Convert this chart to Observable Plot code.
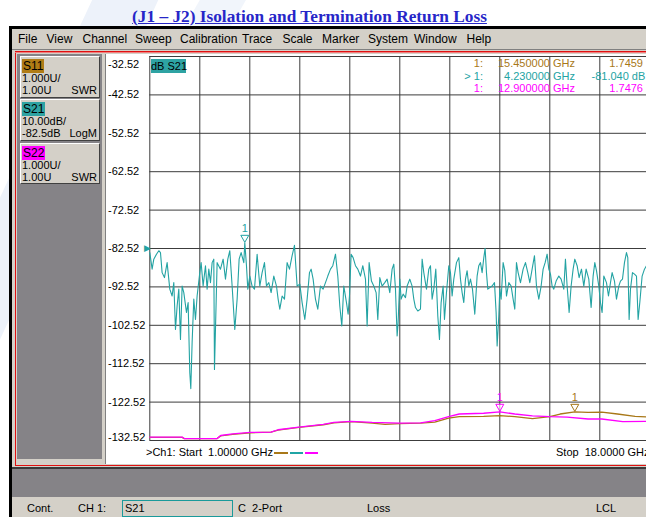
<!DOCTYPE html>
<html><head><meta charset="utf-8">
<script src="https://cdn.jsdelivr.net/npm/d3@7"></script>
<script src="https://cdn.jsdelivr.net/npm/@observablehq/plot@0.6"></script>
<style>
html,body{margin:0;padding:0;background:#fff;overflow:hidden;}
#page{position:relative;width:646px;height:517px;overflow:hidden;font-family:"Liberation Sans",Arial,sans-serif;font-size:11px;color:#000;}
.a{position:absolute;white-space:nowrap;}
.box{position:absolute;background:#d4d0c8;border-top:1px solid #fff;border-left:1px solid #fff;border-right:1px solid #404040;border-bottom:1px solid #404040;box-sizing:border-box;}
.tag{position:absolute;left:1px;top:2px;height:14px;line-height:14px;padding:0 1px;font-size:12px;}
.menu{position:absolute;top:31px;font-size:12px;line-height:16px;}
#chart{position:absolute;left:0;top:0;width:660px;height:470px;}
#chart svg{max-width:none !important;width:660px;height:470px;}
</style></head>
<body><div id="page">
  <!-- faint watermark -->
  <div class="a" style="left:-40px;top:-60px;width:60px;height:700px;background:#edf2fa;transform:rotate(25deg);"></div>
  <div class="a" style="left:200px;top:-40px;width:40px;height:90px;background:#f1f5fb;transform:rotate(30deg);"></div>
  <!-- title -->
  <div class="a" id="title" style="left:0;width:619px;top:8px;text-align:center;font-family:'Liberation Serif','Times New Roman',serif;font-weight:bold;font-size:17.3px;line-height:18px;color:#2626c8;text-decoration:underline;"></div>
  <!-- window frame -->
  <div class="a" style="left:9px;top:26px;width:660px;height:500px;background:#000;"></div>
  <div class="a" style="left:12px;top:29px;width:660px;height:20px;background:#d4d0c8;"></div>
  <div class="a" style="left:12px;top:49px;width:660px;height:1px;background:#808080;"></div>
  <div class="a" style="left:12px;top:50px;width:660px;height:420px;background:#d4d0c8;"></div>
  <div class="a" style="left:15px;top:51px;width:660px;height:415px;border:1px solid #e01010;border-right:none;box-sizing:border-box;"></div>
  <div class="a" style="left:15px;top:52px;width:660px;height:1px;background:#f08080;"></div>
  <div class="a" style="left:17px;top:54px;width:85px;height:405px;background:#858387;"></div>
  <div class="a" style="left:105px;top:54px;width:1px;height:410px;background:#808080;"></div>
  <div class="a" style="left:106px;top:54px;width:600px;height:410px;background:#fff;"></div>
  <div class="a" style="left:12px;top:467px;width:660px;height:2px;background:#3a3a3a;"></div>
  <div class="a" style="left:12px;top:469px;width:660px;height:28px;background:#858387;"></div>
  <div class="a" style="left:12px;top:497px;width:660px;height:20px;background:#d4d0c8;"></div>
  <div id="menus"></div>
  <!-- trace boxes -->
  <div class="box" style="left:20px;top:56px;width:80px;height:42px;">
    <div class="tag" style="background:#b07c16;">S11</div>
    <div class="a" style="left:1px;top:15px;">1.000U/</div>
    <div class="a" style="left:1px;top:27px;">1.00U</div>
    <div class="a" style="right:2px;top:27px;">SWR</div>
  </div>
  <div class="box" style="left:20px;top:99px;width:80px;height:42px;">
    <div class="tag" style="background:#2ea3a3;">S21</div>
    <div class="a" style="left:1px;top:15px;">10.00dB/</div>
    <div class="a" style="left:1px;top:27px;">-82.5dB</div>
    <div class="a" style="right:2px;top:27px;">LogM</div>
  </div>
  <div class="box" style="left:20px;top:143px;width:80px;height:41px;">
    <div class="tag" style="background:#ff00ff;">S22</div>
    <div class="a" style="left:1px;top:15px;">1.000U/</div>
    <div class="a" style="left:1px;top:27px;">1.00U</div>
    <div class="a" style="right:2px;top:27px;">SWR</div>
  </div>
  <div id="chart"></div>
  <div class="a" style="left:151px;top:59px;width:35px;height:14px;line-height:14px;background:#2ea3a3;text-align:center;">dB S21</div>
  <div id="readout"></div>
  <!-- bottom of plot -->
  <div class="a" style="left:146px;top:446px;line-height:13px;">&gt;Ch1: Start&nbsp; 1.00000 GHz</div>
  <div class="a" style="left:274px;top:452px;width:14px;height:2px;background:#a87818;"></div>
  <div class="a" style="left:290px;top:452px;width:13px;height:2px;background:#20a5a5;"></div>
  <div class="a" style="left:305px;top:452px;width:13px;height:2px;background:#ff00ff;"></div>
  <div class="a" style="left:556px;top:446px;line-height:13px;">Stop&nbsp; 18.0000 GHz</div>
  <!-- status bar -->
  <div class="a" style="left:27px;top:502px;line-height:13px;">Cont.</div>
  <div class="a" style="left:78px;top:502px;line-height:13px;">CH 1:</div>
  <div class="a" style="left:122px;top:500px;width:111px;height:17px;border:1px solid #1a9a9a;box-sizing:border-box;padding-left:2px;line-height:14px;">S21</div>
  <div class="a" style="left:238px;top:502px;line-height:13px;">C&nbsp; 2-Port</div>
  <div class="a" style="left:367px;top:502px;line-height:13px;">Loss</div>
  <div class="a" style="left:596px;top:502px;line-height:13px;">LCL</div>
</div>
<script>
const titleText = "(J1 \u2013 J2) Isolation and Termination Return Loss";
const menuItems = ["File","View","Channel","Sweep","Calibration","Trace","Scale","Marker","System","Window","Help"];
const menuX = [18,46.5,82.5,135,180,242,282.5,322,368,414,466.5];

// instrument scale
const startGHz = 1, stopGHz = 18;
const xDivs = [1,2.7,4.4,6.1,7.8,9.5,11.2,12.9,14.6,16.3,18];
const yTicks = [-32.52,-42.52,-52.52,-62.52,-72.52,-82.52,-92.52,-102.52,-112.52,-122.52,-132.52];
const refLevel = -82.5;
const dbPerDiv = 10, swrPerDiv = 1, swrRef = 1;

// S21 (dB) trace
const s21Freq = [
1.000,1.079,1.136,1.227,1.306,1.363,1.419,1.499,1.589,1.680,
1.759,1.816,1.873,1.929,1.986,2.043,2.099,2.156,2.247,2.303,
2.360,2.394,2.439,2.496,2.553,2.609,2.700,2.745,2.813,2.893,
2.949,3.006,3.063,3.119,3.176,3.199,3.289,3.403,3.493,3.573,
3.652,3.720,3.799,3.890,3.969,4.037,4.105,4.196,4.230,4.287,
4.332,4.400,4.479,4.559,4.649,4.740,4.819,4.899,4.967,5.046,
5.125,5.216,5.307,5.363,5.420,5.499,5.579,5.669,5.749,5.839,
5.919,6.009,6.100,6.179,6.270,6.349,6.429,6.485,6.553,6.633,
6.712,6.803,6.893,6.973,7.052,7.143,7.222,7.313,7.392,7.460,
7.528,7.596,7.687,7.743,7.789,7.845,7.913,7.993,8.072,8.163,
8.242,8.333,8.389,8.457,8.536,8.616,8.695,8.752,8.820,8.899,
8.989,9.069,9.160,9.239,9.296,9.353,9.409,9.443,9.500,9.545,
9.613,9.693,9.749,9.840,9.919,9.976,10.033,10.112,10.203,10.259,
10.316,10.407,10.486,10.543,10.599,10.656,10.724,10.792,10.849,10.905,
10.973,11.019,11.087,11.166,11.223,11.279,11.336,11.427,11.506,11.563,
11.619,11.676,11.733,11.789,11.846,11.903,11.971,12.050,12.129,12.186,
12.243,12.299,12.356,12.401,12.447,12.492,12.560,12.639,12.719,12.775,
12.809,12.866,12.900,12.945,13.013,13.070,13.127,13.206,13.285,13.353,
13.410,13.467,13.523,13.603,13.693,13.773,13.852,13.920,13.999,14.079,
14.147,14.226,14.305,14.373,14.441,14.509,14.566,14.623,14.679,14.736,
14.815,14.906,14.985,15.076,15.132,15.189,15.257,15.325,15.393,15.450,
15.529,15.597,15.677,15.756,15.835,15.926,16.005,16.073,16.130,16.187,
16.266,16.323,16.379,16.436,16.527,16.595,16.663,16.719,16.799,16.867,
16.946,17.003,17.071,17.139,17.207,17.252,17.297,17.343,17.411,17.479,
17.547,17.603,17.660,17.739,17.819,17.887,17.950,18.000];
const s21Db = [
-83.6,-87.9,-85.3,-84.0,-83.1,-83.6,-88.8,-90.1,-86.2,-93.1,
-94.9,-91.4,-103.6,-97.5,-93.1,-106.2,-92.3,-94.0,-99.2,-96.6,
-114.9,-119.0,-107.0,-95.7,-101.0,-94.9,-88.8,-86.2,-92.3,-87.0,
-93.1,-87.9,-91.4,-86.2,-85.3,-114.0,-86.2,-87.9,-85.3,-90.5,
-85.3,-83.1,-92.3,-103.6,-95.7,-85.3,-83.6,-86.2,-81.04,-87.0,
-93.1,-89.7,-92.3,-93.1,-84.0,-92.3,-88.8,-86.2,-92.3,-91.4,
-94.0,-89.7,-92.3,-95.7,-98.3,-94.9,-95.7,-86.2,-87.9,-84.4,
-81.7,-92.3,-91.8,-96.6,-101.0,-95.7,-88.8,-87.9,-90.5,-95.7,
-98.3,-92.3,-93.1,-91.4,-89.7,-87.9,-87.0,-84.0,-89.7,-97.5,
-102.7,-92.3,-96.6,-99.6,-94.9,-84.0,-84.9,-87.0,-87.9,-89.7,
-87.0,-90.5,-102.7,-86.2,-91.0,-92.3,-94.0,-101.0,-90.1,-92.3,
-91.4,-90.5,-94.0,-87.9,-86.6,-93.1,-105.3,-101.8,-90.5,-95.7,
-94.4,-95.3,-92.3,-90.5,-92.3,-95.7,-97.9,-98.8,-98.3,-85.3,
-88.8,-93.1,-87.9,-87.0,-95.7,-93.1,-87.9,-100.1,-106.2,-96.6,
-92.3,-101.0,-94.0,-87.0,-88.8,-94.9,-90.5,-86.2,-84.9,-90.5,
-94.0,-96.6,-90.5,-88.3,-92.3,-90.5,-93.1,-99.6,-89.7,-87.0,
-86.2,-88.8,-84.9,-82.5,-88.8,-93.1,-92.7,-92.3,-91.4,-99.2,
-107.9,-100.1,-93.1,-95.7,-86.2,-88.3,-94.9,-91.4,-92.3,-95.7,
-98.3,-86.2,-88.8,-91.4,-87.9,-86.2,-88.8,-91.4,-87.9,-84.4,
-92.3,-95.7,-92.3,-87.9,-86.2,-84.0,-87.9,-89.2,-92.3,-93.1,
-91.0,-89.7,-90.5,-93.1,-85.3,-92.3,-99.2,-92.3,-87.9,-85.3,
-87.0,-90.1,-87.9,-92.3,-87.9,-90.5,-97.9,-89.7,-86.2,-88.3,
-92.3,-96.6,-99.2,-89.7,-91.4,-94.9,-91.4,-88.8,-91.0,-95.7,
-92.3,-91.0,-90.5,-86.2,-83.6,-84.9,-101.0,-93.1,-88.8,-89.2,
-89.7,-101.0,-96.6,-89.7,-87.9,-87.0,-88.5,-90.0];

// S11 (SWR) trace
const s11Freq = [1.00,2.10,2.17,3.29,3.41,3.82,4.41,5.12,5.36,6.07,6.90,7.26,7.85,8.56,9.00,9.50,10.21,10.69,11.16,11.52,12.35,12.90,13.41,14.01,14.60,14.95,15.45,15.90,16.37,16.90,17.50,18.00];
const s11Swr  = [1.08,1.08,1.05,1.05,1.12,1.16,1.20,1.22,1.27,1.34,1.41,1.46,1.49,1.45,1.42,1.44,1.45,1.48,1.58,1.62,1.63,1.65,1.62,1.57,1.62,1.69,1.7459,1.73,1.74,1.69,1.63,1.61];
// S22 (SWR) trace
const s22Freq = [1.00,2.10,2.17,3.29,3.41,3.82,4.41,5.12,5.36,6.07,6.90,7.26,7.85,8.56,9.50,10.21,10.69,11.16,11.52,12.35,12.90,13.41,14.01,14.60,15.19,15.90,16.37,17.08,17.89,18.00];
const s22Swr  = [1.09,1.09,1.05,1.05,1.13,1.17,1.21,1.22,1.28,1.35,1.42,1.47,1.50,1.47,1.45,1.46,1.52,1.62,1.69,1.71,1.7476,1.69,1.64,1.62,1.61,1.56,1.56,1.49,1.50,1.50];

// markers
const markerTrace = ["S11","S21","S22"];
const markerFreq = [15.45, 4.23, 12.9];
const markerValue = [1.7459, -81.04, 1.7476];
const markerLabel = ["1:", "> 1:", "1:"];
const markerFreqText = ["15.450000 GHz","4.230000 GHz","12.900000 GHz"];
const markerValText = ["1.7459","-81.040 dB","1.7476"];

const colors = {S11:"#a87818", S21:"#23a3a3", S22:"#ff00ff"};
const bottomDb = yTicks[yTicks.length-1];
const swrToDb = v => bottomDb + (v - swrRef) / swrPerDiv * dbPerDiv;

document.getElementById("title").textContent = titleText;
const menus = document.getElementById("menus");
menuItems.forEach((m,i)=>{const d=document.createElement("div");d.className="menu";d.style.left=menuX[i]+"px";d.textContent=m;menus.appendChild(d);});

const s21 = s21Freq.map((f,i)=>({f, v:s21Db[i]}));
const s11 = s11Freq.map((f,i)=>({f, v:swrToDb(s11Swr[i])}));
const s22 = s22Freq.map((f,i)=>({f, v:swrToDb(s22Swr[i])}));
const mk = markerTrace.map((t,i)=>({t, f:markerFreq[i], v: t==="S21" ? markerValue[i] : swrToDb(markerValue[i])}));

// marker glyph: downward triangle whose tip sits on the trace point
const markerSymbol = {draw(ctx) { ctx.moveTo(0, -0.5); ctx.lineTo(-4, -7.5); ctx.lineTo(4, -7.5); ctx.closePath(); }};

const font = "Liberation Sans, Arial, sans-serif";
const chart = Plot.plot({
  width: 660, height: 470,
  marginLeft: 149.3, marginRight: 10.7, marginTop: 56, marginBottom: 30,
  x: {domain: [startGHz, stopGHz], axis: null},
  y: {domain: [bottomDb, yTicks[0]], axis: null},
  style: {background: "transparent", fontFamily: font, overflow: "visible"},
  marks: [
    Plot.ruleX(xDivs, {stroke: "#3c3c3c", strokeWidth: 1}),
    Plot.ruleY(yTicks, {stroke: "#3c3c3c", strokeWidth: 1}),
    Plot.text(yTicks.slice(1, -1), {y: d=>d, frameAnchor: "left", textAnchor: "start", dx: -41.8, text: d=>d.toFixed(2), fontSize: 11, fill: "#000"}),
    Plot.text(yTicks.slice(0, 1), {y: d=>d, frameAnchor: "left", textAnchor: "start", dx: -41.8, dy: 8, text: d=>d.toFixed(2), fontSize: 11, fill: "#000"}),
    Plot.text(yTicks.slice(-1), {y: d=>d, frameAnchor: "left", textAnchor: "start", dx: -41.8, dy: -3, text: d=>d.toFixed(2), fontSize: 11, fill: "#000"}),
    Plot.line(s11, {x: "f", y: "v", stroke: colors.S11, strokeWidth: 1.3}),
    Plot.line(s22, {x: "f", y: "v", stroke: colors.S22, strokeWidth: 1.3}),
    Plot.line(s21, {x: "f", y: "v", stroke: colors.S21, strokeWidth: 1.1}),
    Plot.text([refLevel], {x: startGHz, y: d=>d, text: ()=>"\u25B6", textAnchor: "end", dx: 1, fontSize: 9, fill: colors.S21}),
    Plot.dot(mk, {x: "f", y: "v", symbol: markerSymbol, r: 4, fill: "white", fillOpacity: 0.6, stroke: d=>colors[d.t], strokeWidth: 1}),
    Plot.text(mk, {x: "f", y: "v", text: ()=>"1", dy: -14, fontSize: 11, fill: d=>colors[d.t]})
  ]
});
document.getElementById("chart").appendChild(chart);

// marker readout
const ro = document.getElementById("readout");
const rowY = [57, 69.5, 82];
[0,1,2].forEach(i=>{
  const c = colors[markerTrace[i]];
  const add = (txt, css) => {const d=document.createElement("div");d.className="a";d.textContent=txt;d.style.cssText+=css+`top:${rowY[i]}px;color:${c};line-height:13px;`;ro.appendChild(d);};
  add(markerLabel[i], `right:${646-483}px;`);
  add(markerFreqText[i], `right:${646-575}px;`);
  if (markerTrace[i]==="S21") add(markerValText[i], `left:591.5px;`);
  else add(markerValText[i], `right:${646-643}px;`);
});
</script>
</body></html>
